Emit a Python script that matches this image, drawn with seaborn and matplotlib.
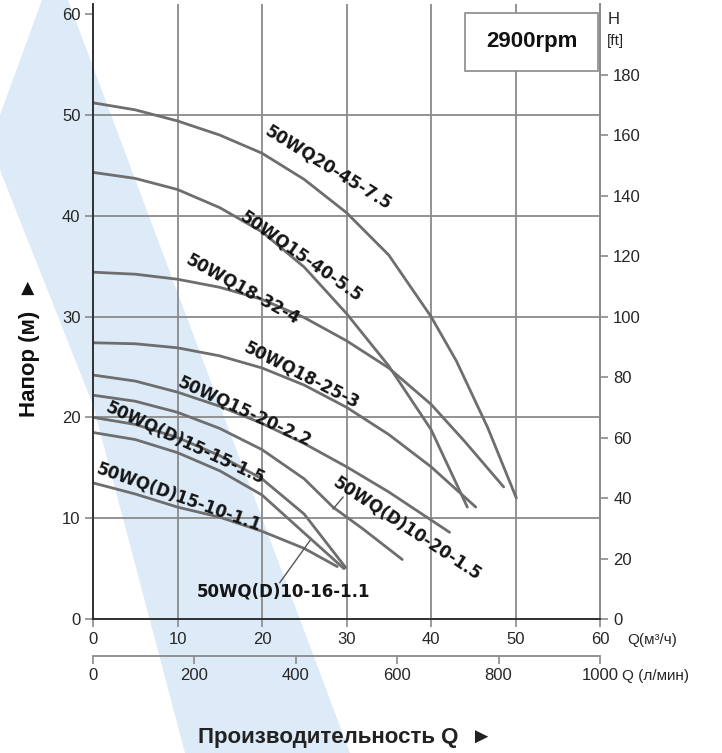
import numpy as np
import pandas as pd
import seaborn as sns
import matplotlib.pyplot as plt
from matplotlib.patches import Polygon, Rectangle

# pump curves, Q in m3/h, H in m
q_45_75 = [0, 5, 10, 15, 20, 25, 30, 35, 40, 43, 46.7, 50.1]
h_45_75 = [51.2, 50.5, 49.4, 48.0, 46.2, 43.6, 40.3, 36.1, 30.0, 25.6, 19.0, 12.0]
q_40_55 = [0, 5, 10, 15, 20, 25, 30, 35, 40, 44.3]
h_40_55 = [44.3, 43.7, 42.6, 40.8, 38.4, 34.9, 30.3, 25.1, 18.8, 11.1]
q_32_4 = [0, 5, 10, 15, 20, 25, 30, 35, 40, 44, 48.6]
h_32_4 = [34.4, 34.2, 33.7, 32.9, 31.7, 29.9, 27.6, 24.9, 21.3, 17.6, 13.1]
q_25_3 = [0, 5, 10, 15, 20, 25, 30, 35, 40, 45.3]
h_25_3 = [27.4, 27.3, 26.9, 26.1, 24.9, 23.2, 21.0, 18.3, 15.1, 11.1]
q_20_22 = [0, 5, 10, 15, 20, 25, 30, 35, 42.2]
h_20_22 = [24.2, 23.6, 22.5, 21.1, 19.4, 17.4, 15.1, 12.6, 8.6]
q_d10_20 = [0, 5, 10, 15, 20, 25, 28.4, 32, 36.6]
h_d10_20 = [22.2, 21.6, 20.5, 18.9, 16.8, 13.9, 11.1, 8.9, 5.9]
q_d15_15 = [0, 5, 10, 15, 20, 25, 29.9]
h_d15_15 = [20.0, 19.3, 18.0, 16.2, 13.9, 10.4, 5.1]
q_d10_16 = [0, 5, 10, 15, 20, 25.7, 29.7]
h_d10_16 = [18.5, 17.8, 16.5, 14.7, 12.3, 8.0, 5.0]
q_d15_10 = [0, 5, 10, 15, 20, 25, 28.9]
h_d15_10 = [13.5, 12.4, 11.1, 10.1, 8.7, 7.0, 5.2]

models = ["50WQ20-45-7.5", "50WQ15-40-5.5", "50WQ18-32-4", "50WQ18-25-3",
          "50WQ15-20-2.2", "50WQ(D)10-20-1.5", "50WQ(D)15-15-1.5",
          "50WQ(D)10-16-1.1", "50WQ(D)15-10-1.1"]
q_all = [q_45_75, q_40_55, q_32_4, q_25_3, q_20_22, q_d10_20, q_d15_15, q_d10_16, q_d15_10]
h_all = [h_45_75, h_40_55, h_32_4, h_25_3, h_20_22, h_d10_20, h_d15_15, h_d10_16, h_d15_10]

frames = []
for name, q, h in zip(models, q_all, h_all):
    frames.append(pd.DataFrame({"model": name, "Q": q, "H": h}))
df = pd.concat(frames, ignore_index=True)

# label placement (x, y, angle)
label_pos = {
    "50WQ20-45-7.5": (27.9, 44.8, -31.6),
    "50WQ15-40-5.5": (24.7, 36.0, -35),
    "50WQ18-32-4": (17.8, 32.7, -29),
    "50WQ18-25-3": (24.7, 24.2, -27),
    "50WQ15-20-2.2": (18.0, 20.6, -24.7),
    "50WQ(D)15-15-1.5": (10.9, 17.5, -25),
    "50WQ(D)15-10-1.1": (10.2, 12.1, -19.6),
    "50WQ(D)10-20-1.5": (37.2, 9.0, -33.4),
    "50WQ(D)10-16-1.1": (22.5, 2.7, 0),
}

sns.set_theme(style="white")
plt.rcParams['font.family'] = ['Liberation Sans', 'DejaVu Sans']

W, H = 722, 753
fig = plt.figure(figsize=(W / 100, H / 100), dpi=100)

# watermark band behind everything
band = [(42, 0), (68, 0), (350, 753), (185, 753), (93, 405), (0, 170), (0, 115)]
fig.patches.append(Polygon([(x / W, 1 - y / H) for x, y in band], closed=True,
                           transform=fig.transFigure, fc="#dcebf7", ec="none", zorder=-10))

ax = fig.add_axes([93 / W, 1 - 619 / H, 507 / W, 615 / H])
ax.patch.set_alpha(0)
gc = "#8a8a8a"
for v in range(10, 60, 10):
    ax.axvline(v, color=gc, lw=1.3, zorder=1)
    ax.axhline(v, color=gc, lw=1.3, zorder=1)

sns.lineplot(data=df, x="Q", y="H", units="model", estimator=None, sort=False,
             color="#6e6e6e", lw=2, ax=ax, legend=False, zorder=3)

for name, (x, y, a) in label_pos.items():
    ax.text(x, y, name, rotation=a, rotation_mode="anchor", ha="center", va="center",
            fontsize=12, fontweight="bold", color="#151515", family="DejaVu Sans", zorder=5)

# leader lines
ax.plot([22.1, 25.7], [3.6, 7.8], color="#555555", lw=1, zorder=4)
ax.plot([28.4, 29.6], [10.9, 12.1], color="#555555", lw=1, zorder=4)

ax.set_xlim(0, 60)
ax.set_ylim(0, 61)
ax.set_xticks(range(0, 61, 10))
ax.set_yticks(range(0, 61, 10))
ax.set_xlabel("")
ax.set_ylabel("")
ax.spines["top"].set_visible(False)
for s in ["left", "right", "bottom"]:
    ax.spines[s].set_color(gc)
    ax.spines[s].set_linewidth(1.3)
ax.tick_params(axis="both", direction="out", length=6, width=1.2, color=gc,
               labelsize=12, pad=3, left=True, bottom=True)

# rpm box
ax.add_patch(Rectangle((44.0, 54.4), 15.8, 5.7, fc="white", ec=gc, lw=1.2, zorder=6))
ax.text(51.9, 57.3, "2900rpm", ha="center", va="center", fontsize=16,
        fontweight="bold", color="#111111", zorder=7)

# right axis in feet
axr = ax.twinx()
axr.set_ylim(0, 203.5)
axr.set_yticks(range(0, 181, 20))
axr.spines["top"].set_visible(False)
axr.spines["right"].set_color(gc)
axr.spines["right"].set_linewidth(1.3)
axr.tick_params(axis="y", direction="out", length=6, width=1.2, color=gc, labelsize=12, right=True)
fig.text(608 / W, 1 - 19 / H, "H", fontsize=12, va="center", ha="left")
fig.text(607 / W, 1 - 41 / H, "[ft]", fontsize=11, va="center", ha="left")

# second flow scale in l/min
sec = ax.secondary_xaxis(-0.060, functions=(lambda x: x * 1000 / 60, lambda x: x * 60 / 1000))
sec.set_xticks(range(0, 1001, 200))
sec.spines["bottom"].set_color(gc)
sec.spines["bottom"].set_linewidth(1.3)
sec.tick_params(axis="x", direction="out", length=6, width=1.2, color=gc, labelsize=12, pad=3)

fig.text(627 / W, 1 - 640 / H, "Q(м³/ч)", fontsize=11, va="center", ha="left")
fig.text(622 / W, 1 - 676 / H, "Q (л/мин)", fontsize=11, va="center", ha="left")

fig.text(345 / W, 1 - 737 / H, "Производительность Q  ►", fontsize=16, fontweight="bold",
         ha="center", va="center", color="#222222")
fig.text(30 / W, 1 - 347 / H, "Напор (м)  ►", fontsize=16, fontweight="bold",
         ha="center", va="center", rotation=90, color="#111111")

fig.savefig("out.png", dpi=100, facecolor="white")
